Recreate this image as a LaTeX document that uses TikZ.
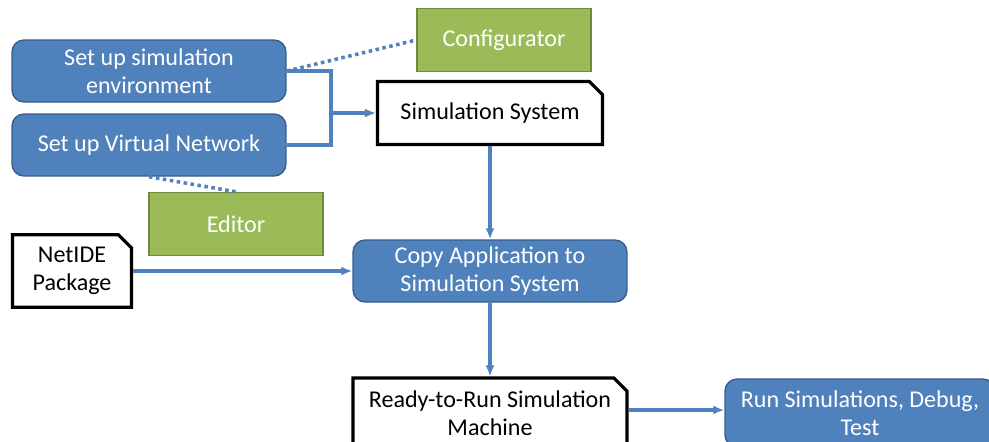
\documentclass[tikz,border=0pt]{standalone}
\usepackage{fontspec}
\setmainfont{Carlito}
\usetikzlibrary{arrows.meta,shapes.misc}
\definecolor{stepblue}{HTML}{4F81BD}
\definecolor{stepline}{HTML}{385D8A}
\definecolor{toolgreen}{HTML}{9BBB59}
\definecolor{toolline}{HTML}{71893F}
\tikzset{
  every node/.style={font=\fontsize{13.7}{16}\selectfont, align=center},
  stepbox/.style={rounded corners=0.24cm, fill=stepblue, draw=stepline, line width=0.8pt,
    text=white, minimum width=5.48cm, minimum height=1.24cm},
  toolbox/.style={fill=toolgreen, draw=toolline, line width=0.8pt, text=white,
    minimum width=3.48cm, minimum height=1.26cm},
  databox/.style={chamfered rectangle, chamfered rectangle corners=north east,
    chamfered rectangle xsep=0.13cm, chamfered rectangle ysep=0.13cm,
    draw=black, line width=1.8pt, fill=white, minimum height=1.26cm},
  flow/.style={draw=stepblue, line width=2pt, -{Latex[length=0.22cm,width=0.18cm]}},
  link/.style={draw=stepblue, line width=2pt, dash pattern=on 2pt off 2pt}
}
\begin{document}
\begin{tikzpicture}[x=0.02cm,y=-0.02cm]
\useasboundingbox (0,0) rectangle (989,441);
% steps and tools
\node[stepbox] (env) at (149,71) {Set up simulation\\environment};
\node[stepbox] (vnet) at (149,145) {Set up Virtual Network};
\node[toolbox] (conf) at (504,40) {Configurator};
\node[toolbox] (edit) at (236,224) {Editor};
\node[databox, minimum width=4.5cm] (sys) at (490,113) {Simulation System};
\node[databox, minimum width=2.38cm] (pkg) at (72,271) {NetIDE\\Package};
\node[stepbox] (copy) at (490,271) {Copy Application to\\Simulation System};
\node[databox, minimum width=5.48cm, minimum height=1.4cm] (ready) at (490,413) {Ready-to-Run Simulation\\Machine};
\node[stepbox, minimum width=5.4cm, minimum height=1.36cm] (run) at (860,413) {Run Simulations, Debug,\\Test};
% connectors
\coordinate (join) at (331,113);
\draw[link] (env.east) -- (conf.west);
\draw[link] (vnet.south) -- (edit.north);
\draw[flow,-] (env.east) -| (join) |- (vnet.east);
\draw[flow] (join) -- (sys.west);
\draw[flow] (sys.south) -- (copy.north);
\draw[flow] (pkg.east) -- (copy.west);
\draw[flow] (copy.south) -- (ready.north);
\draw[flow] (ready.east) ++(0,-3) -- (run.west |- 0,410);
\end{tikzpicture}
\end{document}
